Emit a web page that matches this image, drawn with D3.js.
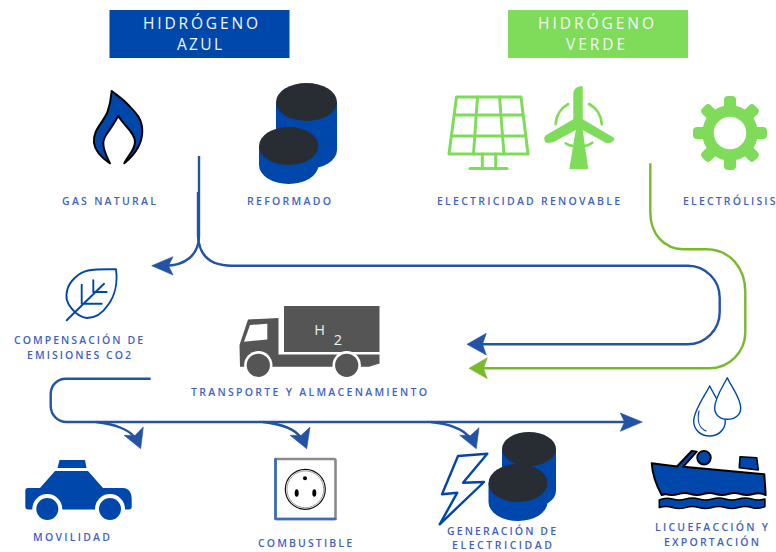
<!DOCTYPE html>
<html lang="es">
<head>
<meta charset="utf-8">
<title>Hidrógeno azul y verde</title>
<script src="https://cdn.jsdelivr.net/npm/d3@7/dist/d3.min.js"></script>
<style>
html,body{margin:0;padding:0;background:#fff;overflow:hidden}
svg{display:block;font-family:"Open Sans",sans-serif}
</style>
</head>
<body>
<svg id="c" width="776" height="552" viewBox="0 0 776 552"></svg>
<script>
// ---- content ----
const headerLines = [["HIDRÓGENO","AZUL"],["HIDRÓGENO","VERDE"]];
const stageLabels = ["GAS NATURAL","REFORMADO","ELECTRICIDAD RENOVABLE","ELECTRÓLISIS",
  "COMPENSACIÓN DE","EMISIONES CO2","TRANSPORTE Y ALMACENAMIENTO","MOVILIDAD","COMBUSTIBLE",
  "GENERACIÓN DE","ELECTRICIDAD","LICUEFACCIÓN Y","EXPORTACIÓN"];
const truckCargo = ["H","2"];

// ---- styling ----
const BLUE="#0047ab", GREEN="#7fdc5a", LINE_BLUE="#2353a5", LINE_GREEN="#7ab82e",
      DARK="#282c33", TRUCK="#555555", LABEL="#3f62c2";
const svg=d3.select("#c");

// ---- placement of the text ----
const headerBoxes=[
 {x:109.5,w:180,fill:BLUE,lines:[[143,258,29.3],[177,222,50]]},
 {x:508,w:180,fill:GREEN,lines:[[538,654,29.3],[566,625,50]]}];
const labelPlace=[[62,156,205],[247,331,205],[437,620,205],[683,775.5,205],[14,143,344],[27,131,359],
 [191,427,396],[33,110,541],[258,352,547],[447,556,534.7],[452,552,549],[655,768,531],[664,759,546]];

headerBoxes.forEach((b,i)=>{
  svg.append("rect").attr("x",b.x).attr("y",10).attr("width",b.w).attr("height",48).attr("fill",b.fill);
  svg.selectAll(null).data(headerLines[i]).join("text")
    .attr("x",(d,j)=>b.lines[j][0]).attr("y",(d,j)=>b.lines[j][2])
    .attr("textLength",(d,j)=>b.lines[j][1]-b.lines[j][0]).attr("lengthAdjust","spacing")
    .attr("font-size",15.5).attr("fill","#f4f8f4").text(d=>d);
});
svg.selectAll(null).data(stageLabels).join("text")
  .attr("x",(d,i)=>labelPlace[i][0]).attr("y",(d,i)=>labelPlace[i][2])
  .attr("textLength",(d,i)=>labelPlace[i][1]-labelPlace[i][0]).attr("lengthAdjust","spacing")
  .attr("font-size",10.5).attr("font-weight",600).attr("fill",LABEL).text(d=>d);

// ---- helpers ----
function poly(pts,fill,stroke,sw){
  return svg.append("path").attr("d",d3.line()(pts)+"Z").attr("fill",fill||"none")
    .attr("stroke",stroke||"none").attr("stroke-width",sw||0).attr("stroke-linejoin","round");
}
function p(d,fill,stroke,sw){
  return svg.append("path").attr("d",d).attr("fill",fill||"none").attr("stroke",stroke||"none")
    .attr("stroke-width",sw||0).attr("stroke-linecap","round").attr("stroke-linejoin","round");
}
function circle(cx,cy,r,fill,stroke,sw){
  return svg.append("circle").attr("cx",cx).attr("cy",cy).attr("r",r).attr("fill",fill||"none")
    .attr("stroke",stroke||"none").attr("stroke-width",sw||0);
}
function tank(cx,rx,ry,top,bottom){
  p(`M${cx-rx} ${top}V${bottom}A${rx} ${ry} 0 0 0 ${cx+rx} ${bottom}V${top}Z`,BLUE);
  svg.append("ellipse").attr("cx",cx).attr("cy",top).attr("rx",rx).attr("ry",ry).attr("fill",DARK);
}
function head(tip,b1,notch,b2,color){
  poly([tip,b1,notch,b2],color,color,0.6);
}

// ---- connectors ----
const connectors=[
 {c:LINE_BLUE,w:2.4,d:"M199 156V236C199 255 185 265.7 165 265.7"},
 {c:LINE_BLUE,w:2.4,d:"M198 192V236C199 255 210 265.7 232 265.7H688A32 32 0 0 1 719.7 298V312A32.3 32.3 0 0 1 687.4 344.3H480"},
 {c:LINE_GREEN,w:2.4,d:"M650.3 163.3V212C650.3 234 664 249.3 684 249.3H706C730 249.3 745.3 268 745.3 292V332A36 36 0 0 1 709.3 368.3H482"},
 {c:LINE_BLUE,w:2.4,d:"M150.7 378.7H66A15 15 0 0 0 50.7 394V406A16 16 0 0 0 66.7 422H625"},
 {c:LINE_BLUE,w:2.4,d:"M96 422C115 424 130 430 135 438"},
 {c:LINE_BLUE,w:2.4,d:"M263 422C282 424 296 430 301 438"},
 {c:LINE_BLUE,w:2.4,d:"M431 422C450 424 464 430 470 438"}];
svg.selectAll(null).data(connectors).join("path").attr("d",d=>d.d).attr("fill","none")
  .attr("stroke",d=>d.c).attr("stroke-width",d=>d.w);
head([151.7,265.7],[173,256.7],[168.5,265.7],[173,275],LINE_BLUE);
head([467,344.3],[486.3,333.3],[482.5,344.3],[486.3,355],LINE_BLUE);
head([469,368.3],[487.3,357.7],[483.5,368.3],[487.3,378.7],LINE_GREEN);
head([642.3,422],[620.3,413],[624.5,422],[620.3,431.3],LINE_BLUE);
head([140.7,448.7],[124,435.3],[135,435.5],[143.3,427],LINE_BLUE);
head([306.7,448.7],[290,435.3],[301,435.5],[310,427],LINE_BLUE);
head([476.3,448.7],[459.7,435.3],[470.5,435.5],[479,427.7],LINE_BLUE);

// ---- flame ----
p("M111.7 91C118 96 124 100 128.3 105C135 112 142.3 118 142.3 131C142.3 147 132 157 124.3 163.3C129 154 135 150 135 141.7C135 132 122 124 118.3 115.7C115 123 111 127 108.3 131.7C105 136 103.3 139 103.3 143.3C103.3 151 107 157 110 163.3C102 158 95 152 94 143C92.5 130 103 123 107.5 112C109.5 106 111 100 111.7 91Z",BLUE,"#000",2);

// ---- tanks ----
tank(306.5,30.5,19,102,150);
tank(288.7,29.7,19,146,165);
tank(529,27,17,449,491);
tank(518,29.5,19,483,502);

// ---- solar panel ----
p("M456.5 97H521L528 154H449Z",null,GREEN,3);
p("M477.5 97L473.5 154M499.5 97L504 154M454.5 115H523M452 136H525.5",null,GREEN,3);
p("M482.3 154V168M495.7 154V168",null,GREEN,3);
p("M470 168.5H507",null,GREEN,3);

// ---- wind turbine ----
p("M573.3 119.3V94C573.3 90 576 86 582.7 86V119.3L611 136C614 137 615 139 614 140.5C611 143 608 143.5 605.7 142.7L582.7 130L588.3 169.3H569.3L575.7 130L553.3 142.3C550 143 546 143 545 141.7C544 139 544 137 545.5 135.5Z",GREEN);
p("M555.7 124.3A24 24 0 0 1 568.3 104M589 104A24 24 0 0 1 601.7 124.3",null,GREEN,2.6);
p("M565.7 143.3Q569 146 574 146M583.3 146Q588 146 592.3 142.7",null,GREEN,2.6);

// ---- gear ----
d3.range(8).forEach(i=>{
  svg.append("rect").attr("x",724).attr("y",96).attr("width",12).attr("height",20).attr("rx",4)
    .attr("fill",GREEN).attr("transform",`rotate(${i*45} 730 133)`);
});
circle(730,133,22,"none",GREEN,11.5);

// ---- leaf ----
p("M116 269.3C104 269 96 269 88 270.5C78 273 70 281 67.5 289C65 298 67 303 71.7 308.7C76 314 81 317.5 87 318C97 318 104 311 108 305C114 297 118 284 116 269.3Z",null,BLUE,1.9);
p("M66.7 320.3L104 283.7M81.7 284.7V303.7H101.7M93.3 280.3V292H106.7",null,BLUE,1.9);

// ---- truck ----
svg.append("rect").attr("x",284).attr("y",306).attr("width",95.5).attr("height",46).attr("fill",TRUCK);
poly([[248,319.5],[278.5,318],[278.5,354.5],[379.5,354.5],[379.5,363.5],[369,366.7],[240,366.7],[239.5,345]],TRUCK);
poly([[250,325],[267.3,323.7],[267.3,339.5],[244,341.7]],"#fff");
[258.3,346.7].forEach(cx=>{circle(cx,365.3,14.2,"#fff");circle(cx,365.3,11.6,TRUCK);});
svg.selectAll(null).data(truckCargo).join("text")
  .attr("x",(d,i)=>i?338:319.5).attr("y",(d,i)=>i?345.3:335.3).attr("text-anchor","middle")
  .attr("font-size",14.5).attr("fill","#eee").text(d=>d);

// ---- taxi ----
poly([[59.5,460],[85,460],[86.5,468],[57.5,468]],BLUE);
p("M55 471H88L103 488H123C129 488 131.7 493 131.7 499V507C131.7 508 131 509.5 129 509.5H28C26 509.5 25.3 508 25.3 507V491C25.3 489 26 488 28 488H40Z",BLUE);
[47.3,110].forEach(cx=>{circle(cx,509,15,"#fff");circle(cx,509,11,BLUE);});

// ---- socket ----
svg.append("rect").attr("x",275.5).attr("y",459).attr("width",60).attr("height",60).attr("rx",1.5)
  .attr("fill","#fff").attr("stroke","#8a8a8a").attr("stroke-width",2.6);
p("M275.5 459V519H335.5",null,"#3a6dbb",2.6);
circle(305.3,489.3,20,"#fff","#111",1.2);
circle(305.3,489.3,18.4,"none","#888",0.8);
circle(305,478.3,2,"#000");
[296.7,314.3].forEach(cx=>svg.append("ellipse").attr("cx",cx).attr("cy",493).attr("rx",2).attr("ry",3.8).attr("fill","#000"));

// ---- bolt ----
poly([[458,456],[487.3,453.7],[463,482.7],[484,482],[439.7,524.3],[457.3,492.7],[442,494.3]],"#fff",BLUE,2.4);

// ---- drops ----
p("M709.7 386C704 397 693.7 411 693.7 421C693.7 430 701 436 709.5 436C718 436 725.3 430 725.3 421C725.3 411 715 397 709.7 386Z","#fff",BLUE,1.4);
p("M699 411C697 420 699 428 706 431",null,BLUE,1.2);
p("M727.3 377.7C722 388 714.7 398 714.7 408C714.7 415 720 419.3 727.5 419.3C735 419.3 740.7 415 740.7 408C740.7 398 732 388 727.3 377.7Z","#fff",BLUE,1.4);

// ---- boat ----
p("M651.7 463.3L677 466.5L691.7 451L696.7 451.7L683.3 466.7L764.3 474.3L765.7 495q-6.2 -3 -12.5 -1t-12.5 0t-12.5 0t-12.5 0t-12.5 0t-12.5 0t-12.5 0t-12.5 0L661.7 495C656 485 652.5 475 651.7 463.3Z",BLUE,"#000",2);
circle(704,457.7,6.8,BLUE,"#000",1.8);
poly([[740,456.7],[756.7,457.7],[758.3,470],[739.3,467.7]],BLUE,"#000",1.6);
p("M659.3 500q6.6 -3 13.2 -1t13.2 0t13.2 0t13.2 0t13.2 0t13.2 0t13.2 0t13.2 0V506.5q-6.6 3 -13.2 1t-13.2 0t-13.2 0t-13.2 0t-13.2 0t-13.2 0t-13.2 0t-13.2 0Z",BLUE,"#000",1.6);
</script>
</body>
</html>
